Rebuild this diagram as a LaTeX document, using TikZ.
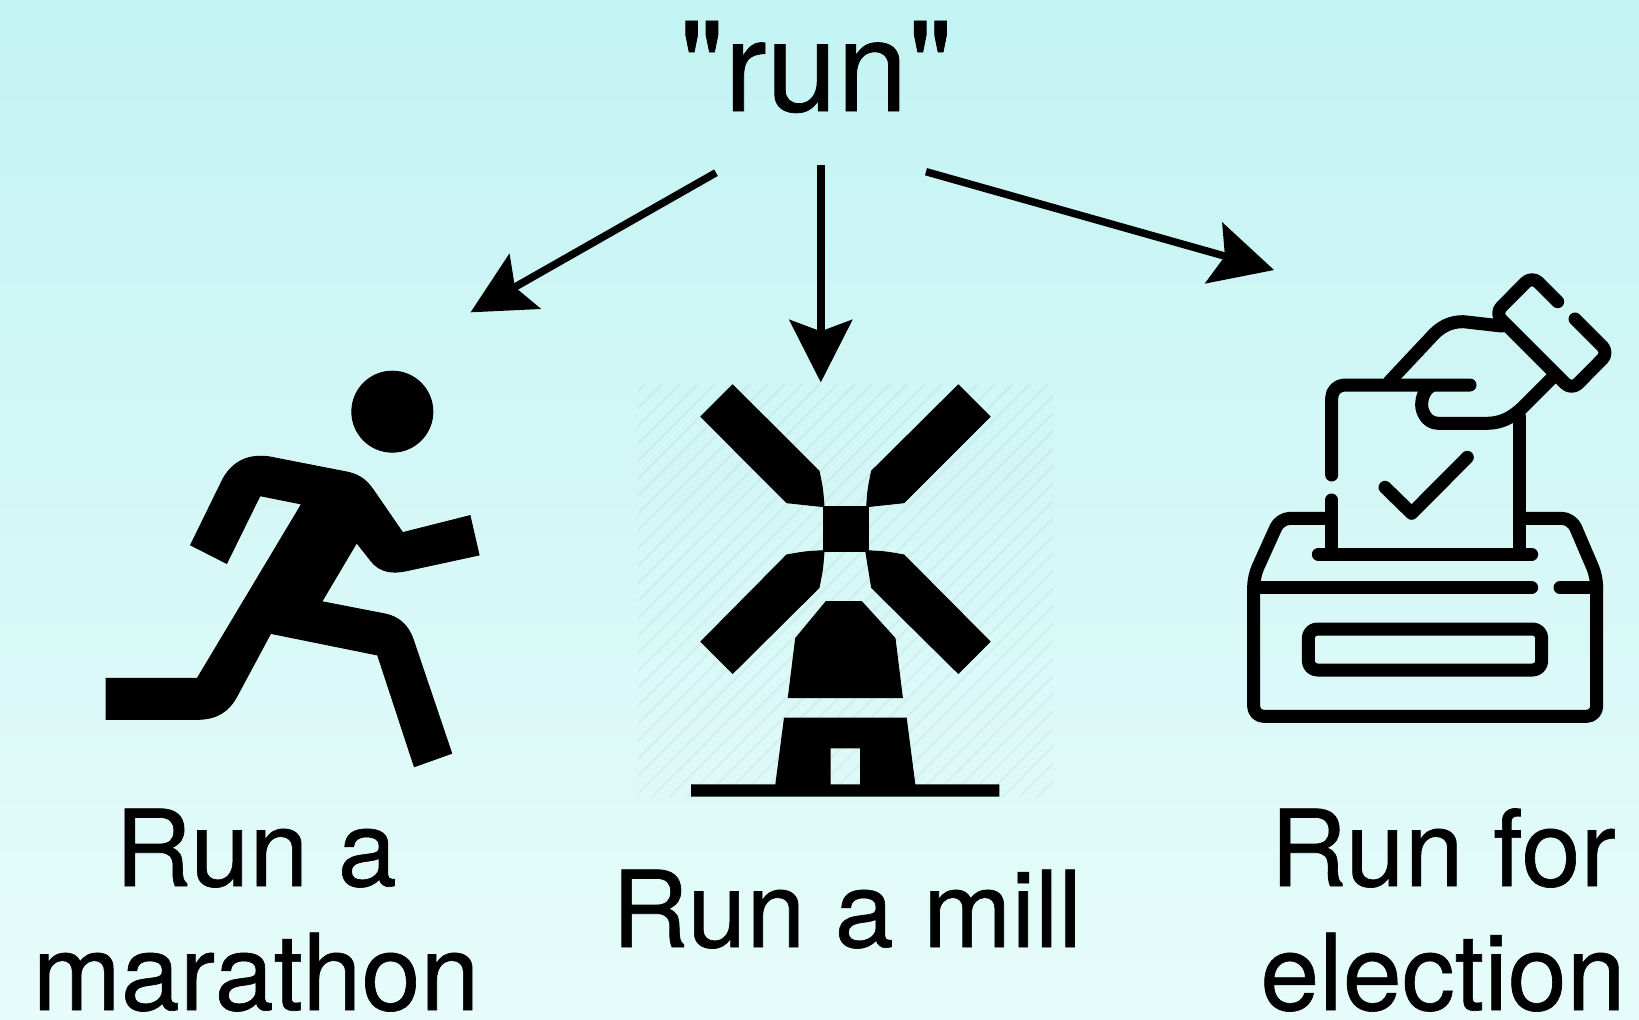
\documentclass[tikz,border=0pt]{standalone}
\usepackage{fontspec}
\newfontfamily\hv{TeX Gyre Heros}[FakeBold=0.6]
\usetikzlibrary{arrows.meta}
\definecolor{bgtop}{HTML}{C3F3F3}
\definecolor{bgbot}{HTML}{E6FCFA}
\tikzset{
  conn/.style={line width=7.5pt,-{Stealth[length=63pt,width=64pt,inset=12pt,line width=0pt]}},
  biglabel/.style={font=\hv\fontsize{106}{124}\selectfont,align=center,inner sep=0pt,text=black,text depth=0pt},
  iconfill/.style={fill=black,draw=black,line width=1pt,line join=miter},
  ballot/.style={draw=black,line width=13pt,line cap=round,line join=round,fill=none},
  hatchline/.style={draw=black,line width=2.5pt,opacity=.035}
}
\begin{document}
\begin{tikzpicture}[x=1pt,y=-1pt]
\useasboundingbox (0,0) rectangle (1639,1020);
\shade[top color=bgtop,bottom color=bgbot] (0,0) rectangle (1639,1020);

% hatch behind the mill
\begin{scope}
\clip (638,384) rectangle (1053,797);
\foreach \k in {0,...,47} {
  \draw[hatchline] ({645+\k*17.5},384) -- ++(-413,413);
}
\end{scope}

% running figure
\begin{scope}[shift={(80,350)},x=0.33333pt,y=-0.33333pt]
\fill[iconfill] (937,185) circle [radius=40.5pt];
\fill[iconfill] (332,585) -- (440,640) -- (540,437) -- (665,462) -- (352,985) -- (78,985) -- (78,1108) -- (350,1108)
  .. controls (410,1108) and (445,1085) .. (470,1040) -- (572,850) -- (893,915) -- (1003,1250) -- (1115,1210) -- (1000,870)
  .. controls (985,825) and (955,800) .. (915,792) -- (725,755) -- (830,578) -- (875,635)
  .. controls (900,665) and (935,672) .. (980,662) -- (1197,615) -- (1170,497) -- (968,548) -- (880,420)
  .. controls (860,392) and (840,375) .. (805,367) -- (590,325)
  .. controls (520,308) and (465,325) .. (430,385) -- cycle;
\end{scope}

% windmill
\begin{scope}[shift={(620,370)},x=0.33333pt,y=-0.33333pt]
\fill[iconfill] (338,45) -- (243,140) -- (500,398) .. controls (556,407) .. (612,410) .. controls (608,356) .. (597,303) -- cycle;
\fill[iconfill] (1015,45) -- (1110,140) -- (852,398) .. controls (796,407) .. (740,410) .. controls (744,356) .. (755,303) -- cycle;
\fill[iconfill] (610,408) rectangle (745,543);
\fill[iconfill] (243,815) -- (338,910) -- (597,653) .. controls (608,598) .. (612,542) .. controls (556,545) .. (500,555) -- cycle;
\fill[iconfill] (1110,815) -- (1015,910) -- (755,653) .. controls (744,598) .. (737,542) .. controls (796,545) .. (852,555) -- cycle;
\fill[iconfill] (618,695) -- (725,695) -- (825,805) -- (847,983) -- (505,983) -- (527,805) -- cycle;
\fill[fill=black,even odd rule] (492,1043) -- (860,1043) -- (886,1243) -- (1138,1243) -- (1138,1280) -- (213,1280) -- (213,1243) -- (466,1243) -- cycle
  (632,1135) rectangle (720,1243);
\end{scope}

% ballot box
\begin{scope}[shift={(1230,260)},x=0.33333pt,y=-0.33333pt]
\draw[ballot,rounded corners=10pt] (300,775) -- (150,775) -- (71,950) -- (71,1369) -- (1100,1369) -- (1100,950) -- (1025,775) -- (880,775);
\draw[ballot] (71,983) -- (905,983);
\draw[ballot] (990,983) -- (1100,983);
\draw[ballot] (265,883) -- (905,883);
\draw[ballot,rounded corners=9pt] (235,1107) rectangle (935,1230);
\draw[ballot] (305,883) -- (305,720);
\draw[ballot,rounded corners=13pt] (305,645) -- (305,375) -- (720,375);
\draw[ballot] (868,883) -- (868,470);
\draw[ballot] (465,682) -- (545,760) -- (712,592);
\draw[ballot] (478,365) -- (600,235) .. controls (630,200) and (660,185) .. (700,185) -- (815,198);
\draw[ballot] (975,345) -- (880,440) .. controls (845,475) and (810,490) .. (770,490) -- (625,490)
  .. controls (590,490) and (575,455) .. (575,435) .. controls (575,410) and (585,390) .. (600,380);
\draw[ballot,rounded corners=9pt] (983,125) -- (906,48) -- (795,160) -- (1025,390) -- (1136,278) -- (1035,177);
\end{scope}

% texts
\node[biglabel,anchor=base,font=\hv\fontsize{127}{124}\selectfont] (run) at (816,111) {"run"};
\node[biglabel,anchor=base] (marathon) at (256,1010) {Run a\\marathon};
\node[biglabel,anchor=base] (mill) at (847,947) {Run a mill};
\node[biglabel,anchor=base] (election) at (1443,1010) {Run for\\election};

% connectors
\coordinate (fromL) at (716,172.7);
\coordinate (fromC) at (820.8,165);
\coordinate (fromR) at (926,171.7);
\coordinate (toL) at (470.6,312.3);
\coordinate (toC) at (820.8,382.3);
\coordinate (toR) at (1274,270);
\draw[conn] (fromL) -- (toL);
\draw[conn] (fromC) -- (toC);
\draw[conn] (fromR) -- (toR);
\end{tikzpicture}
\end{document}
